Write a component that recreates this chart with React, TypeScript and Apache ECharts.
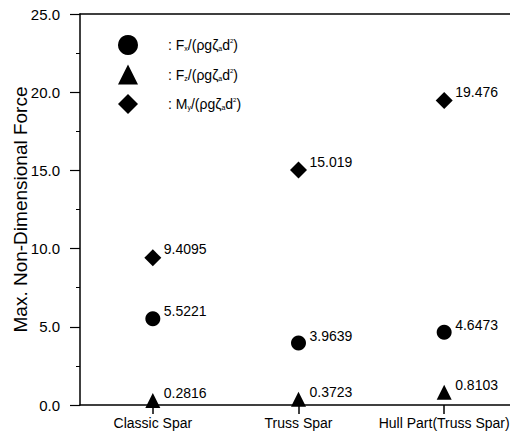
import React, { useEffect, useRef } from "react";
import * as echarts from "echarts";

const categories = ["Classic Spar", "Truss Spar", "Hull Part(Truss Spar)"];
const fxValues = [5.5221, 3.9639, 4.6473];
const fzValues = [0.2816, 0.3723, 0.8103];
const myValues = [9.4095, 15.019, 19.476];
const seriesNames = ["Fx", "Fz", "My"];
const legendSubs: Record<string, string> = { Fx: "x", Fz: "z", My: "y" };
const legendHeads: Record<string, string> = { Fx: "F", Fz: "F", My: "M" };

const FONT = "Liberation Sans, Arial, sans-serif";
const NARROW = "Liberation Sans Narrow, Liberation Sans, Arial, sans-serif";

export default function App() {
  const ref = useRef<HTMLDivElement>(null);

  useEffect(() => {
    if (!ref.current) return;
    const chart = echarts.init(ref.current, undefined, { renderer: "svg" });

    const mk = (name: string, data: number[], symbol: string, size: number) => ({
      name,
      type: "scatter",
      xAxisIndex: 0,
      yAxisIndex: 0,
      data,
      symbol,
      symbolSize: size,
      itemStyle: { color: "#000", opacity: 1 },
      label: {
        show: true,
        position: [size / 2 + 11, 0],
        align: "left",
        verticalAlign: "middle",
        color: "#000",
        fontSize: 14,
        fontFamily: FONT,
        formatter: (p: any) => String(p.value),
      },
    });

    chart.setOption({
      animation: false,
      backgroundColor: "#fff",
      textStyle: { fontFamily: FONT, color: "#000" },
      grid: { left: 80, right: 1, top: 14, bottom: 41, outerBoundsMode: "none", containLabel: false },
      legend: {
        orient: "vertical",
        left: 118,
        top: 35,
        padding: 0,
        itemWidth: 20,
        itemHeight: 20,
        itemGap: 9.5,
        data: seriesNames,
        formatter: (name: string) =>
          `{pad|}: ${legendHeads[name]}{sub|${legendSubs[name]}}/(ρgζ{sub|a}d{sup|2})`,
        textStyle: {
          color: "#000",
          fontSize: 14,
          fontFamily: NARROW,
          rich: {
            pad: { width: 25 },
            sub: { fontSize: 7, fontFamily: NARROW, verticalAlign: "bottom", padding: [5, 0, 0, 0] },
            sup: { fontSize: 6, fontFamily: NARROW, verticalAlign: "top", padding: [0, 0, 6, 0] },
          },
        },
      },
      xAxis: [
        {
          type: "category",
          data: categories,
          boundaryGap: true,
          axisLine: { onZero: false, lineStyle: { color: "#000", width: 1.5 } },
          axisTick: { show: true, alignWithLabel: true, length: 9, lineStyle: { color: "#000", width: 1.5 } },
          axisLabel: { interval: 0, color: "#000", fontSize: 14, fontFamily: FONT, margin: 11 },
          splitLine: { show: false },
        },
        {
          type: "category",
          position: "top",
          data: categories,
          axisLine: { onZero: false, lineStyle: { color: "#000", width: 1.5 } },
          axisTick: { show: false },
          axisLabel: { show: false },
          splitLine: { show: false },
        },
      ],
      yAxis: [
        {
          type: "value",
          min: 0,
          max: 25,
          interval: 5,
          name: "Max. Non-Dimensional Force",
          nameLocation: "middle",
          nameGap: 50,
          nameMoveOverlap: false,
          nameTextStyle: { color: "#000", fontSize: 19, fontFamily: FONT },
          axisLine: { show: true, onZero: false, lineStyle: { color: "#000", width: 1.5 } },
          axisTick: { show: true, length: 10, lineStyle: { color: "#000", width: 1.2 } },
          minorTick: { show: true, splitNumber: 2, length: 4, lineStyle: { color: "#000", width: 1 } },
          axisLabel: {
            color: "#000",
            fontSize: 15,
            fontFamily: FONT,
            margin: 20,
            formatter: (v: number) => v.toFixed(1),
          },
          splitLine: { show: false },
        },
        {
          type: "value",
          position: "right",
          min: 0,
          max: 25,
          interval: 5,
          axisLine: { show: true, onZero: false, lineStyle: { color: "#bbb", width: 1 } },
          axisTick: { show: false },
          axisLabel: { show: false },
          splitLine: { show: false },
        },
      ],
      series: [
        mk("Fx", fxValues, "circle", 15),
        mk("Fz", fzValues, "triangle", 15),
        mk("My", myValues, "diamond", 17),
      ],
    });

    return () => chart.dispose();
  }, []);

  return <div ref={ref} style={{ width: 518, height: 446, margin: -8 }} />;
}
